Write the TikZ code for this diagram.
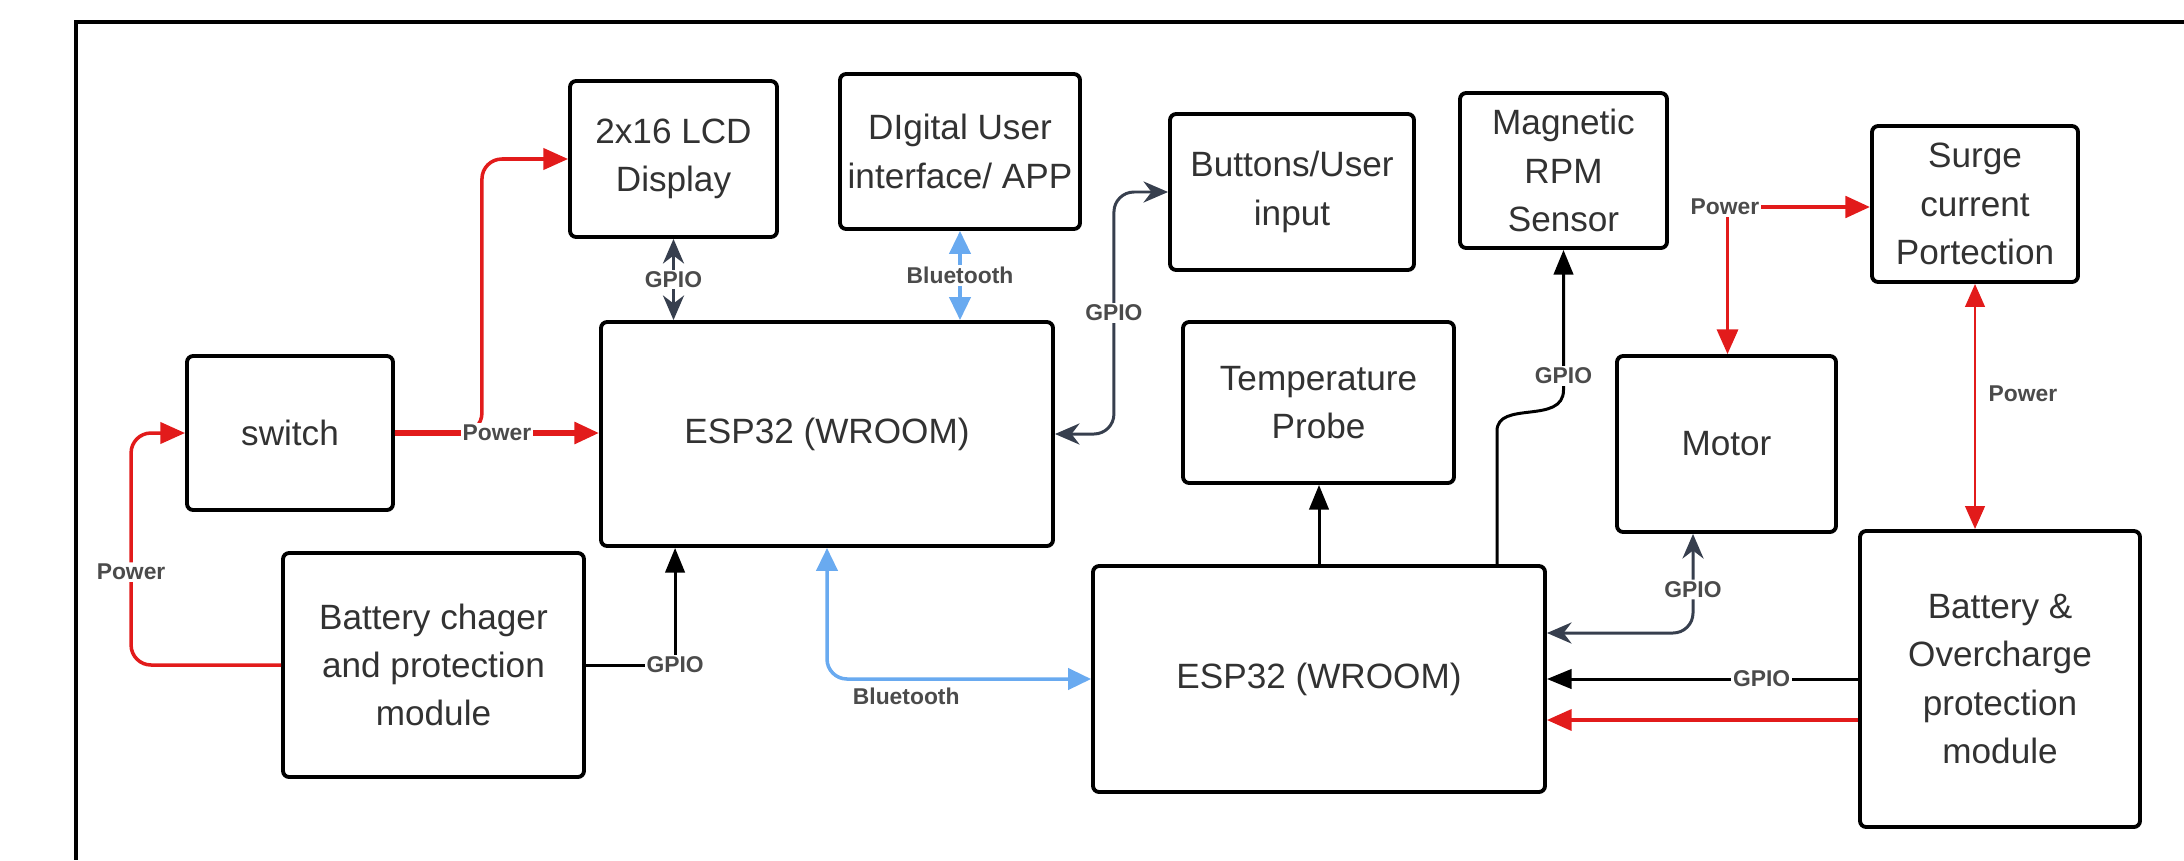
\documentclass[tikz,border=0pt]{standalone}
\usepackage{fontspec}
\setmainfont{Liberation Sans}
\usepackage{tikz}
\usetikzlibrary{arrows.meta,positioning,calc}
\definecolor{powerred}{RGB}{226, 27, 27}
\definecolor{btblue}{RGB}{105, 170, 240}
\definecolor{gpiodark}{RGB}{55, 63, 78}
\definecolor{textgray}{RGB}{50, 50, 50}
\definecolor{labelgray}{RGB}{75, 75, 75}
\tikzset{
  blockbox/.style={
    draw=black,
    line width=2.2pt,
    rounded corners=3.5pt,
    fill=white,
    align=center,
    text=textgray,
    inner sep=4pt,
    font=\fontsize{20}{27.5}\selectfont
  },
  powerarrow/.style={
    -{Triangle[length=14pt,width=12pt]},
    line width=2pt,
    draw=powerred
  },
  powerboth/.style={
    {Triangle[length=13pt,width=11pt]}-{Triangle[length=13pt,width=11pt]},
    line width=1.6pt,
    draw=powerred
  },
  gpioarrow/.style={
    -{Triangle[length=14pt,width=11pt]},
    line width=1.7pt,
    draw=black
  },
  gpioboth/.style={
    {Stealth[length=14pt,width=12pt]}-{Stealth[length=14pt,width=12pt]},
    line width=1.7pt,
    draw=gpiodark
  },
  btboth/.style={
    {Triangle[length=13pt,width=12pt]}-{Triangle[length=13pt,width=12pt]},
    line width=2pt,
    draw=btblue
  },
  wirelabel/.style={
    fill=white,
    inner sep=1pt,
    text=labelgray,
    font=\fontsize{13}{14}\selectfont\bfseries
  }
}

\begin{document}
\begin{tikzpicture}
  \useasboundingbox (0,0) rectangle (43.68,-17.2);
  \draw[line width=2.4pt] (43.68,-0.44) -- (1.52,-0.44) -- (1.52,-17.2);

  \node[blockbox, minimum width=4.14cm, minimum height=3.12cm] (lcd) at (13.47,-3.18) {2x16 LCD\\Display};
  \node[blockbox, minimum width=4.80cm, minimum height=3.10cm] (app) at (19.20,-3.03) {DIgital User\\interface/ APP};
  \node[blockbox, minimum width=4.88cm, minimum height=3.12cm] (btn) at (25.84,-3.84) {Buttons/User\\input};
  \node[blockbox, minimum width=4.14cm, minimum height=3.10cm] (rpm) at (31.27,-3.41) {Magnetic\\RPM\\Sensor};
  \node[blockbox, minimum width=4.12cm, minimum height=3.12cm] (surge) at (39.50,-4.08) {Surge\\current\\Portection};
  \node[blockbox, minimum width=4.12cm, minimum height=3.08cm] (switch) at (5.80,-8.66) {switch};
  \node[blockbox, minimum width=9.04cm, minimum height=4.48cm] (esp1) at (16.54,-8.68) {ESP32 (WROOM)};
  \node[blockbox, minimum width=5.42cm, minimum height=3.22cm] (temp) at (26.37,-8.05) {Temperature\\Probe};
  \node[blockbox, minimum width=4.38cm, minimum height=3.52cm] (motor) at (34.53,-8.88) {Motor};
  \node[blockbox, minimum width=6.02cm, minimum height=4.48cm] (charger) at (8.67,-13.30) {Battery chager\\and protection\\module};
  \node[blockbox, minimum width=9.04cm, minimum height=4.52cm] (esp2) at (26.38,-13.58) {ESP32 (WROOM)};
  \node[blockbox, minimum width=5.60cm, minimum height=5.92cm] (batt) at (40.00,-13.58) {Battery \&\\Overcharge\\protection\\module};

  \draw[powerarrow, rounded corners=0.4cm] (switch.east) -- ++(1.74,0) |- (lcd.west);
  \draw[powerarrow, line width=3pt] (switch.east) -- node[wirelabel]{Power} (switch.east -| esp1.west);
  \draw[powerarrow, rounded corners=0.4cm] (charger.west) -- ++(-3.0,0) |- node[wirelabel, pos=0.2]{Power} (switch.west);
  \draw[gpioboth] (lcd.south) -- node[wirelabel]{GPIO} (lcd.south |- esp1.north);
  \draw[btboth] (app.south) -- node[wirelabel]{Bluetooth} (app.south |- esp1.north);
  \draw[gpioboth, rounded corners=0.4cm] (esp1.east) -- ++(1.18,0) |- node[wirelabel, pos=0.25]{GPIO} (btn.west);
  \draw[gpioarrow] (charger.east) -| node[wirelabel, pos=0.5]{GPIO} ([xshift=1.52cm]esp1.south west);
  \draw[btboth, rounded corners=0.4cm] (esp1.south) |- node[wirelabel, pos=0.65, below=3pt]{Bluetooth} (esp2.west);

  \draw[gpioarrow] (esp2.north) -- (esp2.north |- temp.south);
  \coordinate (rpmbendlow) at (29.94,-8.62);
  \coordinate (rpmbendhigh) at (31.27,-7.8);
  \draw[gpioarrow] ([xshift=3.56cm]esp2.north) -- (rpmbendlow) .. controls (29.94,-8.0) and (31.27,-8.5) .. (rpmbendhigh) -- node[wirelabel, pos=0.1]{GPIO} (rpm.south);

  \node[wirelabel] (pwrtag) at (34.50,-4.14) {Power};
  \draw[powerarrow, line width=2.6pt] (pwrtag.east) -- (pwrtag.east -| surge.west);
  \draw[powerarrow, line width=1.6pt] ([xshift=0.05cm]pwrtag.south) -- ([xshift=0.05cm]pwrtag.south |- motor.north);
  \draw[powerboth] (surge.south) -- node[wirelabel, pos=0.45, right=6pt]{Power} (surge.south |- batt.north);

  \draw[gpioboth, rounded corners=0.4cm] ([yshift=0.92cm]esp2.east) -| node[wirelabel, pos=0.72]{GPIO} ([xshift=-0.67cm]motor.south);
  \draw[gpioarrow] (batt.west) -- node[wirelabel, pos=0.31]{GPIO} (batt.west -| esp2.east);
  \draw[powerarrow, line width=1.8pt] ($(batt.west)+(0,-0.82)$) -- ($(esp2.east)+(0,-0.82)$);
\end{tikzpicture}
\end{document}
